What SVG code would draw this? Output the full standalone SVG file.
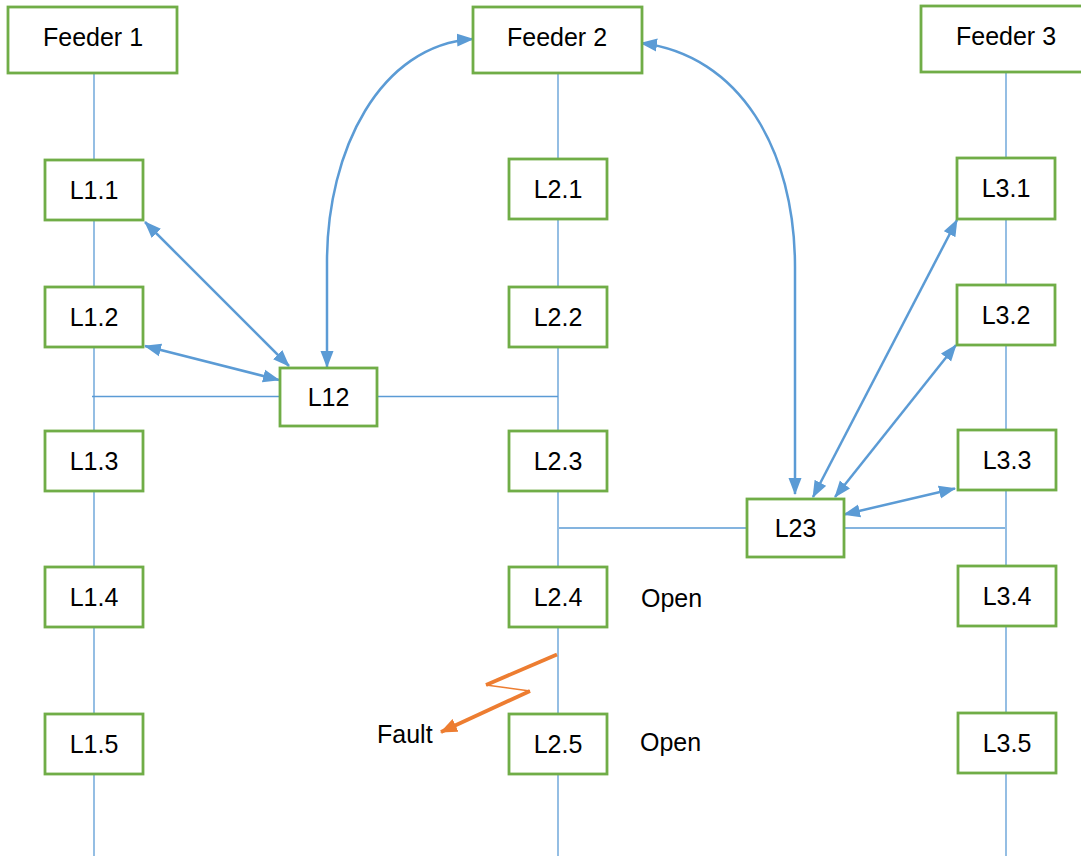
<svg xmlns="http://www.w3.org/2000/svg" width="1081" height="856" viewBox="0 0 1081 856">
  <style>
    .box { fill: #FFFFFF; stroke: #70AD47; stroke-width: 2.8; }
    .lbl { font-family: "Liberation Sans", Arial, sans-serif; font-size: 25px; fill: #000000; text-anchor: middle; }
    .free { font-family: "Liberation Sans", Arial, sans-serif; font-size: 25px; fill: #000000; }
    .wire { stroke: #5B9BD5; stroke-width: 1.3; fill: none; }
    .arr { stroke: #5B9BD5; stroke-width: 2.5; fill: none; marker-end: url(#ah); marker-start: url(#ah); }
  </style>
  <defs>
    <marker id="ah" markerUnits="userSpaceOnUse" markerWidth="18" markerHeight="14" refX="16" refY="7" orient="auto-start-reverse" viewBox="0 0 18 14">
      <path d="M0,0.5 L17,7 L0,13.5 z" fill="#5B9BD5"/>
    </marker>
    <marker id="oh" markerUnits="userSpaceOnUse" markerWidth="18" markerHeight="14" refX="16" refY="7" orient="auto" viewBox="0 0 18 14">
      <path d="M0,0 L17,7 L0,14 z" fill="#ED7D31"/>
    </marker>
  </defs>
  <rect x="0" y="0" width="1081" height="856" fill="#FFFFFF"/>

  <g id="connectors">
    <line class="wire" x1="94" y1="73" x2="94" y2="856"/>
    <line class="wire" x1="558" y1="73" x2="558" y2="856"/>
    <line class="wire" x1="1006" y1="72" x2="1006" y2="856"/>
    <line class="wire" x1="92" y1="396.5" x2="558" y2="396.5"/>
    <line class="wire" x1="559" y1="528" x2="1005" y2="528"/>

    <line class="arr" x1="145" y1="222" x2="289" y2="366"/>
    <line class="arr" x1="145" y1="346" x2="279" y2="380"/>
    <path class="arr" d="M473,39 C380,45 327,150 327,262 L327,367"/>
    <path class="arr" d="M641,43 C740,55 795,150 795,267 L795,494"/>
    <line class="arr" x1="957" y1="220" x2="813" y2="497"/>
    <line class="arr" x1="956" y1="345" x2="835" y2="497"/>
    <line class="arr" x1="955" y1="488.5" x2="844" y2="514.5"/>

    <g id="fault-bolt">
      <line x1="557" y1="654.5" x2="486" y2="685" stroke="#ED7D31" stroke-width="3.8" stroke-linecap="butt"/>
      <line x1="486" y1="685" x2="530" y2="691" stroke="#ED7D31" stroke-width="1.6"/>
      <line x1="530" y1="691" x2="441" y2="732" stroke="#ED7D31" stroke-width="3.8" marker-end="url(#oh)"/>
    </g>
  </g>

  <g id="feeder1"><rect class="box" x="8" y="7" width="169" height="66"/><text class="lbl" x="93" y="46">Feeder 1</text></g>
  <g id="feeder2"><rect class="box" x="473" y="7" width="169" height="66"/><text class="lbl" x="557" y="46">Feeder 2</text></g>
  <g id="feeder3"><rect class="box" x="921" y="6" width="169" height="66"/><text class="lbl" x="1006" y="45">Feeder 3</text></g>

  <g id="L1.1"><rect class="box" x="45" y="160" width="98" height="60"/><text class="lbl" x="94" y="199">L1.1</text></g>
  <g id="L1.2"><rect class="box" x="45" y="287" width="98" height="60"/><text class="lbl" x="94" y="326">L1.2</text></g>
  <g id="L1.3"><rect class="box" x="45" y="431" width="98" height="60"/><text class="lbl" x="94" y="470">L1.3</text></g>
  <g id="L1.4"><rect class="box" x="45" y="567" width="98" height="60"/><text class="lbl" x="94" y="606">L1.4</text></g>
  <g id="L1.5"><rect class="box" x="45" y="714" width="98" height="60"/><text class="lbl" x="94" y="753">L1.5</text></g>

  <g id="L2.1"><rect class="box" x="509" y="159" width="98" height="60"/><text class="lbl" x="558" y="198">L2.1</text></g>
  <g id="L2.2"><rect class="box" x="509" y="287" width="98" height="60"/><text class="lbl" x="558" y="326">L2.2</text></g>
  <g id="L2.3"><rect class="box" x="509" y="431" width="98" height="60"/><text class="lbl" x="558" y="470">L2.3</text></g>
  <g id="L2.4"><rect class="box" x="509" y="567" width="98" height="60"/><text class="lbl" x="558" y="606">L2.4</text></g>
  <g id="L2.5"><rect class="box" x="509" y="714" width="98" height="60"/><text class="lbl" x="558" y="753">L2.5</text></g>

  <g id="L3.1"><rect class="box" x="957" y="158" width="98" height="61"/><text class="lbl" x="1006" y="197">L3.1</text></g>
  <g id="L3.2"><rect class="box" x="957" y="285" width="98" height="60"/><text class="lbl" x="1006" y="324">L3.2</text></g>
  <g id="L3.3"><rect class="box" x="958" y="430" width="98" height="60"/><text class="lbl" x="1007" y="469">L3.3</text></g>
  <g id="L3.4"><rect class="box" x="958" y="566" width="98" height="60"/><text class="lbl" x="1007" y="605">L3.4</text></g>
  <g id="L3.5"><rect class="box" x="958" y="713" width="98" height="60"/><text class="lbl" x="1007" y="752">L3.5</text></g>

  <g id="L12"><rect class="box" x="280" y="368" width="97" height="58"/><text class="lbl" x="328.5" y="406">L12</text></g>
  <g id="L23"><rect class="box" x="747" y="499" width="97" height="58"/><text class="lbl" x="795.5" y="537">L23</text></g>

  <g id="labels">
    <text class="free" x="641" y="607">Open</text>
    <text class="free" x="640" y="751">Open</text>
    <text class="free" x="377" y="743">Fault</text>
  </g>
</svg>
